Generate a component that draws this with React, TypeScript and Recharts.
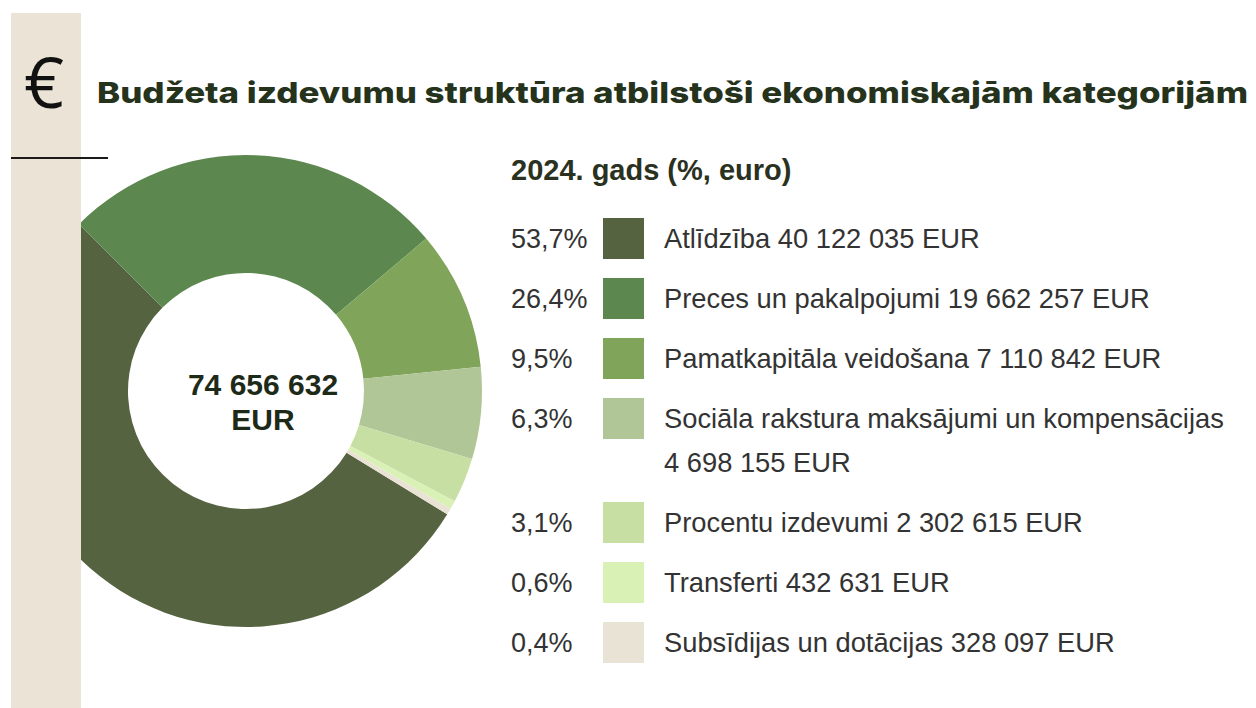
import React from "react";
import { PieChart, Pie, Cell, Legend } from "recharts";

const categories = [
  "Atlīdzība",
  "Preces un pakalpojumi",
  "Pamatkapitāla veidošana",
  "Sociāla rakstura maksājumi un kompensācijas",
  "Procentu izdevumi",
  "Transferti",
  "Subsīdijas un dotācijas",
];
const amounts = [40122035, 19662257, 7110842, 4698155, 2302615, 432631, 328097];
const percentLabels = ["53,7%", "26,4%", "9,5%", "6,3%", "3,1%", "0,6%", "0,4%"];
const colors = ["#566340", "#5c874e", "#80a55a", "#b0c696", "#c7dfa3", "#daf1b6", "#e9e3d5"];
const totalLabel = "74 656 632";
const title = "Budžeta izdevumu struktūra atbilstoši ekonomiskajām kategorijām";
const legendTitle = "2024. gads (%, euro)";

const fmt = (n: number) => String(n).replace(/\B(?=(\d{3})+(?!\d))/g, " ");

const data = categories.map((name, i) => ({
  name,
  value: amounts[i],
  pct: percentLabels[i],
  color: colors[i],
}));

const LegendContent = () => (
  <div style={{ fontFamily: "'Liberation Sans', Arial, sans-serif" }}>
    <div
      style={{
        fontWeight: 700,
        fontSize: 29,
        color: "#2a321f",
        height: 50,
        lineHeight: "50px",
        marginBottom: 22,
      }}
    >
      {legendTitle}
    </div>
    {data.map((d) => (
      <div key={d.name} style={{ display: "flex", alignItems: "flex-start", marginBottom: 16 }}>
        <div style={{ width: 92, fontSize: 27, lineHeight: "44px", color: "#333" }}>{d.pct}</div>
        <div style={{ width: 41, height: 41, background: d.color, marginTop: 1 }} />
        <div
          style={{
            marginLeft: 20,
            width: 590,
            fontSize: 27.3,
            lineHeight: "44px",
            color: "#333",
          }}
        >
          {d.name} <span style={{ whiteSpace: "nowrap" }}>{fmt(d.value)} EUR</span>
        </div>
      </div>
    ))}
  </div>
);

export default function App() {
  return (
    <div style={{ position: "relative", width: 1256, height: 708, background: "#fff", overflow: "hidden" }}>
      <style>{`body{margin:0}`}</style>
      <PieChart width={1256} height={708} margin={{ top: 0, right: 0, bottom: 0, left: 0 }}>
        <Pie
          data={data}
          dataKey="value"
          nameKey="name"
          cx={246}
          cy={391}
          innerRadius={118}
          outerRadius={236}
          startAngle={-31.5}
          endAngle={-391.5}
          stroke="none"
          isAnimationActive={false}
        >
          {data.map((d) => (
            <Cell key={d.name} fill={d.color} />
          ))}
        </Pie>
        <Legend
          layout="vertical"
          content={() => <LegendContent />}
          wrapperStyle={{ position: "absolute", left: 511, top: 145, width: 745 }}
        />
      </PieChart>
      {/* white margin + beige band */}
      <div style={{ position: "absolute", left: 0, top: 0, width: 11, height: 708, background: "#fff" }} />
      <div style={{ position: "absolute", left: 11, top: 13, width: 70, height: 700, background: "#ebe4d6" }} />
      <div style={{ position: "absolute", left: 11, top: 157, width: 97, height: 2, background: "#1a1a1a" }} />
      <div
        style={{
          position: "absolute",
          left: 24,
          top: 36,
          fontFamily: "'Open Sans', sans-serif",
          fontWeight: 400,
          fontSize: 70,
          lineHeight: "90px",
          color: "#111",
        }}
      >
        €
      </div>
      <svg style={{ position: "absolute", left: 0, top: 0 }} width={1256} height={140}>
        <text
          x={97}
          y={103}
          textLength={1151}
          lengthAdjust="spacingAndGlyphs"
          fontFamily="Inter, sans-serif"
          fontWeight={800}
          fontSize={29}
          fill="#26331c"
        >
          {title}
        </text>
      </svg>
      <div
        style={{
          position: "absolute",
          left: 163,
          top: 367,
          width: 200,
          textAlign: "center",
          fontFamily: "'Liberation Sans', Arial, sans-serif",
          fontWeight: 700,
          fontSize: 30,
          lineHeight: "35px",
          color: "#1e2a18",
        }}
      >
        {totalLabel}
        <br />
        EUR
      </div>
    </div>
  );
}
